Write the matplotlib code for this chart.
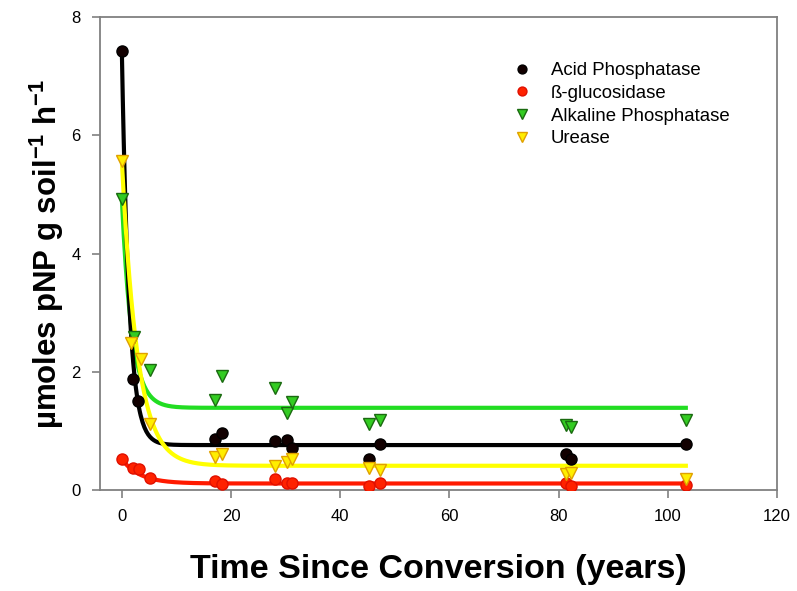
import matplotlib
matplotlib.use("Agg")
import matplotlib.pyplot as plt
import numpy as np

plt.rcParams['font.family'] = ['Liberation Sans', 'DejaVu Sans']
plt.rcParams['mathtext.fontset'] = 'custom'
plt.rcParams['mathtext.rm'] = 'Liberation Sans:bold'
plt.rcParams['mathtext.bf'] = 'Liberation Sans:bold'
plt.rcParams['mathtext.it'] = 'Liberation Sans:bold:italic'

# sampling years (time since conversion)
acid_x = [0, 2, 3, 17, 18.3, 28, 30.3, 31.2, 45.3, 47.3, 81.3, 82.2, 103.3]
acid_y = [7.43, 1.87, 1.51, 0.86, 0.97, 0.83, 0.84, 0.71, 0.52, 0.77, 0.61, 0.52, 0.77]

gluc_x = [0, 2, 3.2, 5.1, 17, 18.3, 28, 30.3, 31.2, 45.3, 47.3, 81.3, 82.2, 103.3]
gluc_y = [0.52, 0.37, 0.36, 0.21, 0.15, 0.10, 0.18, 0.12, 0.12, 0.07, 0.11, 0.11, 0.07, 0.08]

alk_x = [0, 2.2, 5.2, 17, 18.3, 28, 30.3, 31.2, 45.3, 47.3, 81.3, 82.2, 103.3]
alk_y = [4.92, 2.59, 2.03, 1.53, 1.93, 1.72, 1.31, 1.48, 1.12, 1.18, 1.10, 1.07, 1.18]

ure_x = [0, 1.7, 3.5, 5.2, 17, 18.3, 28, 30.3, 31.2, 45.3, 47.3, 81.3, 82.2, 103.3]
ure_y = [5.57, 2.48, 2.21, 1.12, 0.56, 0.61, 0.41, 0.48, 0.52, 0.37, 0.34, 0.27, 0.29, 0.19]

# exponential decay fits: y = y0 + a*exp(-b*x)
acid_fit = (0.76, 6.67, 0.75)
gluc_fit = (0.11, 0.41, 0.30)
alk_fit = (1.39, 3.53, 0.55)
ure_fit = (0.41, 5.16, 0.35)

fig = plt.figure(figsize=(7.97, 5.91), dpi=100)
ax = fig.add_axes([100/797, 101/591, 677/797, 473/591])

xx = np.linspace(0, 103.3, 600)

def decay(p):
    y0, a, b = p
    return y0 + a * np.exp(-b * xx)

ax.plot(xx, decay(alk_fit), color='#22dd22', lw=3, zorder=2)
ax.plot(xx, decay(acid_fit), color='black', lw=3, zorder=2)
ax.plot(xx, decay(ure_fit), color='#ffff00', lw=3, zorder=2)
ax.plot(xx, decay(gluc_fit), color='#ff1a00', lw=3, zorder=2)

ax.plot(acid_x, acid_y, 'o', ms=8, mfc='#120000', mec='#000000', label='Acid Phosphatase', zorder=3)
ax.plot(gluc_x, gluc_y, 'o', ms=8, mfc='#ff2200', mec='#e01000', label='ß-glucosidase', zorder=3)
ax.plot(alk_x, alk_y, 'v', ms=9, mfc='#33cc22', mec='#1a6a10', label='Alkaline Phosphatase', zorder=3)
ax.plot(ure_x, ure_y, 'v', ms=9, mfc='#ffee00', mec='#e0a000', label='Urease', zorder=3)

ax.set_xlim(-4, 120)
ax.set_ylim(0, 8)
ax.set_xticks([0, 20, 40, 60, 80, 100, 120])
ax.set_yticks([0, 2, 4, 6, 8])

for s in ax.spines.values():
    s.set_color('#808080')
    s.set_linewidth(1.3)
ax.tick_params(direction='out', length=6, width=1.2, color='#808080',
               labelsize=12, pad=8)

ax.set_xlabel('Time Since Conversion (years)', fontsize=24.5, fontweight='bold', labelpad=21)
ax.set_ylabel(r'µmoles pNP g soil$^{-1}$ h$^{-1}$', fontsize=22.5, fontweight='bold', labelpad=4)

leg = ax.legend(loc='upper left', bbox_to_anchor=(0.592, 0.92), frameon=False,
                fontsize=13.4, markerscale=0.8, handletextpad=0.8, labelspacing=0.3,
                handlelength=1.5, borderaxespad=0)

fig.savefig('out.png', dpi=100)
